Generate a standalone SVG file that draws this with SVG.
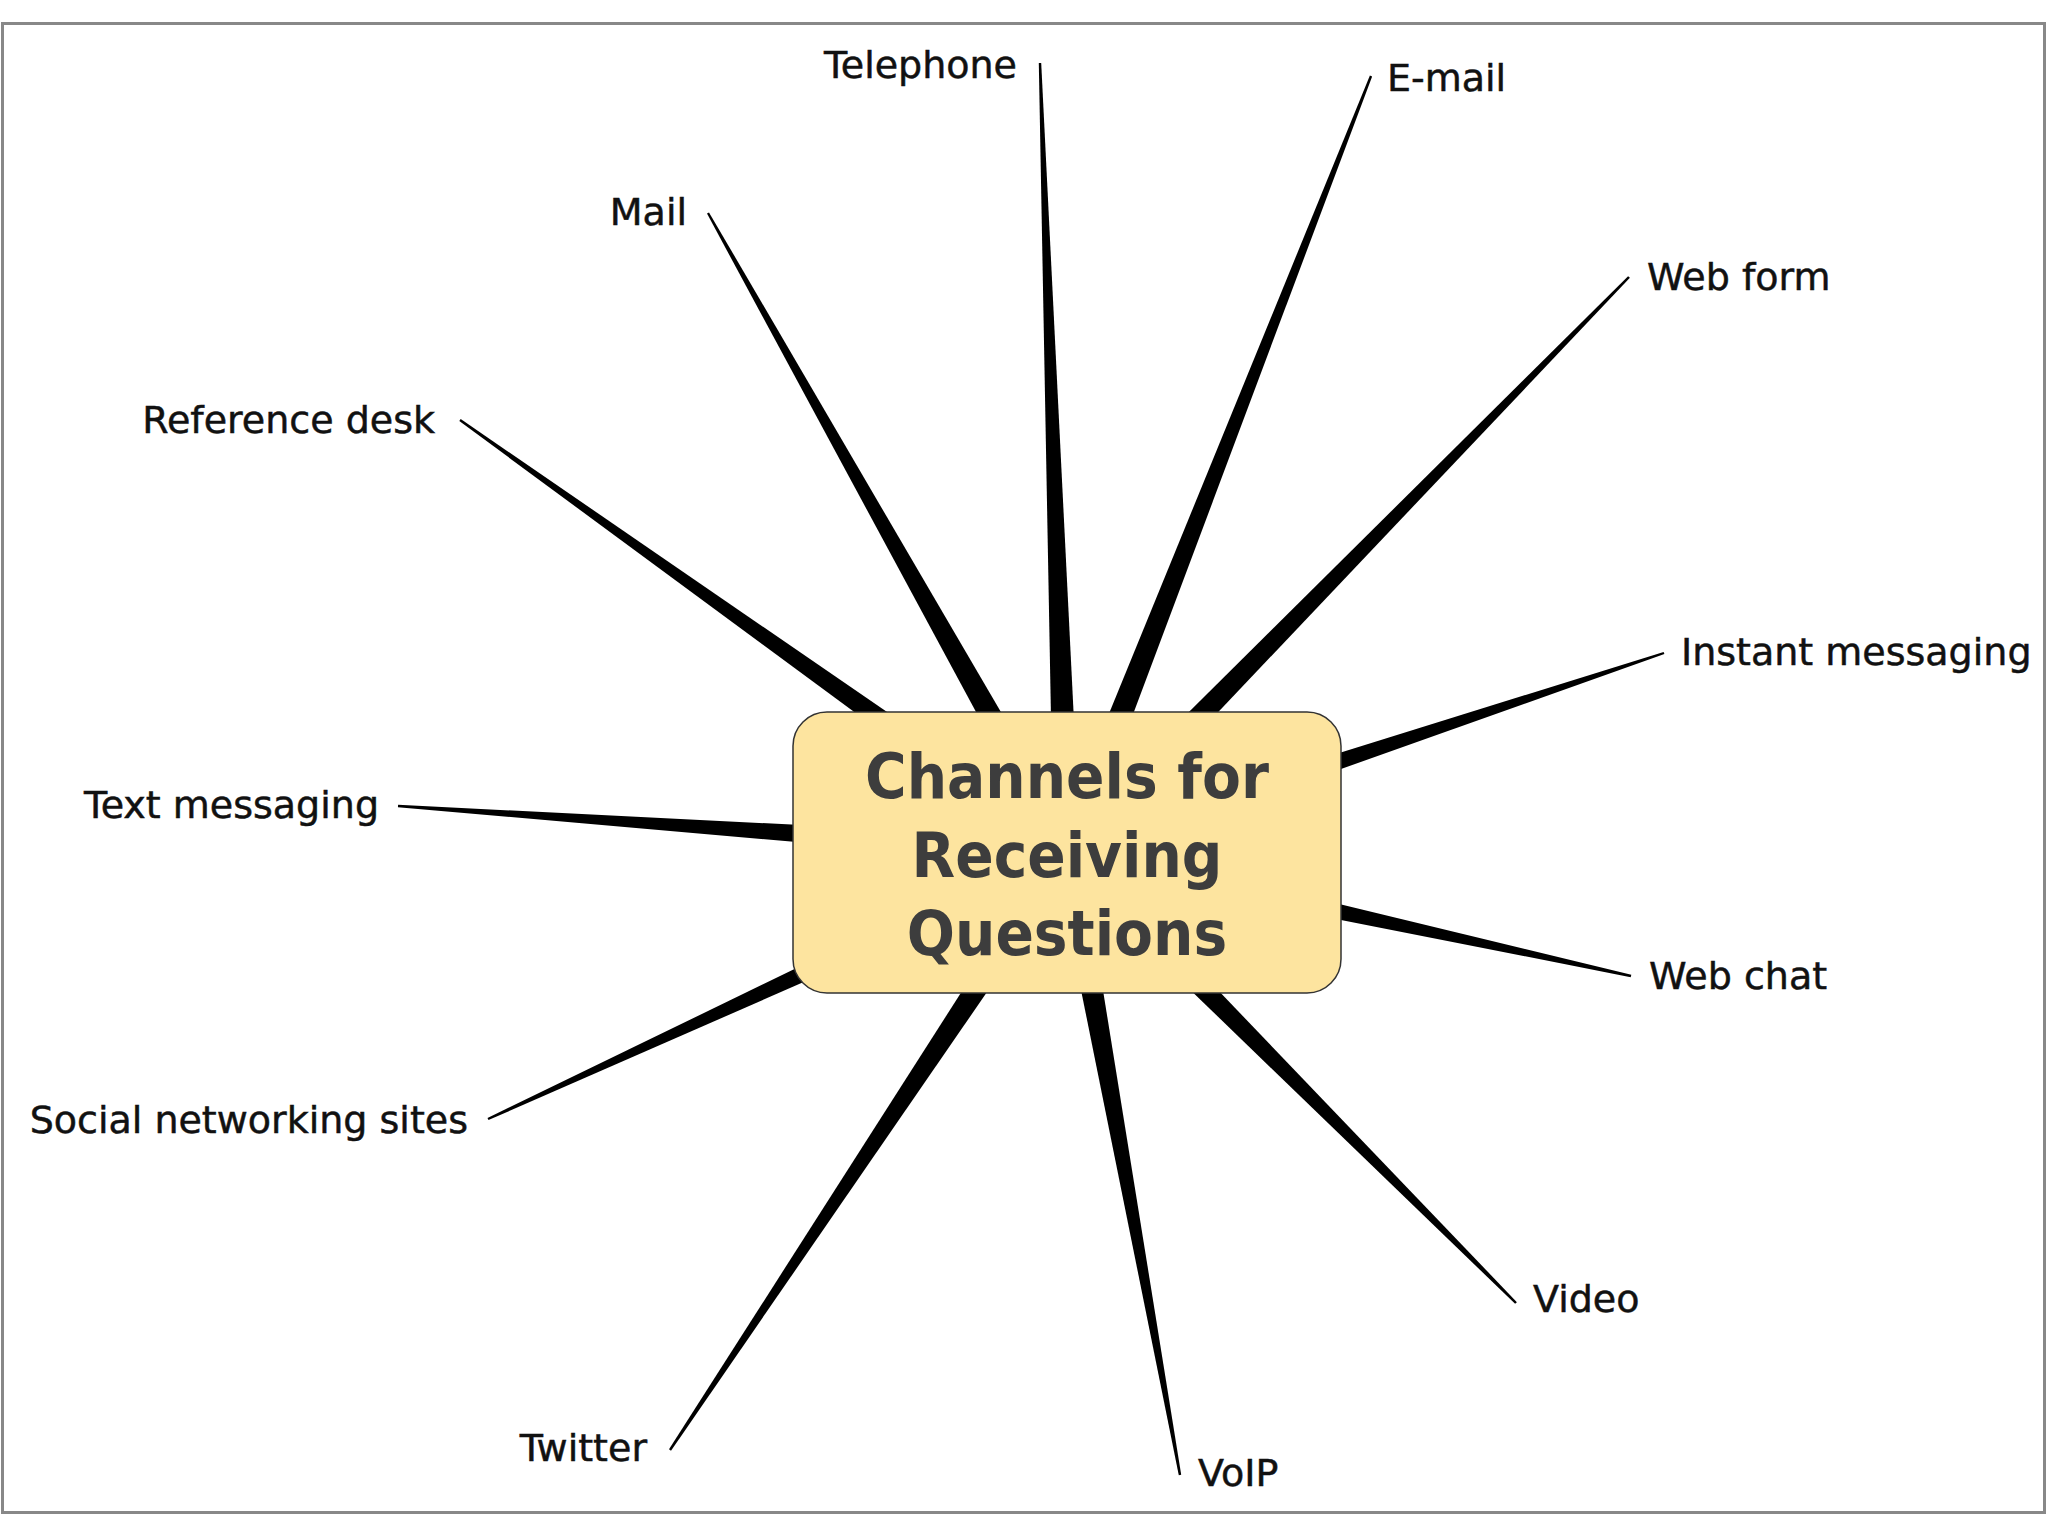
<svg xmlns="http://www.w3.org/2000/svg" width="2048" height="1536" viewBox="0 0 2048 1536">
<style>
.lbl{font-family:"DejaVu Sans","Liberation Sans",sans-serif;font-size:38px;fill:#111;stroke:#111;stroke-width:0.5}
.end{text-anchor:end}
.title{font-family:"DejaVu Sans Condensed","DejaVu Sans",sans-serif;font-stretch:condensed;font-weight:bold;font-size:63px;fill:#3d3d3d;text-anchor:middle}
.wedge{fill:#000}
</style>
<rect x="0" y="0" width="2048" height="1536" fill="#fff"/>
<rect x="2.5" y="23.5" width="2042" height="1489" fill="#fff" stroke="#888" stroke-width="3"/>
<g id="connectors">
<polygon class="wedge" points="1038.8,63 1053.5,852.5 1080.5,851.5 1041.2,63"/>
<polygon class="wedge" points="1369.9,75.6 1054.4,847.1 1079.6,856.9 1372.1,76.4"/>
<polygon class="wedge" points="1628.1,276.2 1057.3,842.6 1076.7,861.4 1629.9,277.8"/>
<polygon class="wedge" points="1663.6,651.9 1062.7,839.2 1071.3,864.8 1664.4,654.1"/>
<polygon class="wedge" points="1631.3,974.8 1069.9,838.8 1064.1,865.2 1630.7,977.2"/>
<polygon class="wedge" points="1516.9,1302.2 1076.6,842.5 1057.4,861.5 1515.1,1303.8"/>
<polygon class="wedge" points="1181.2,1474.8 1080.3,849.6 1053.7,854.4 1178.8,1475.2"/>
<polygon class="wedge" points="671,1450.7 1078.3,859.5 1055.8,844.5 669,1449.3"/>
<polygon class="wedge" points="488.5,1120.1 1072.7,864.3 1061.4,839.7 487.5,1117.9"/>
<polygon class="wedge" points="397.9,807.2 1066.1,865.5 1067.9,838.5 398.1,804.8"/>
<polygon class="wedge" points="459.3,421 1059.2,863 1074.8,841 460.7,419"/>
<polygon class="wedge" points="707,213.6 1055.2,858.6 1078.8,845.4 709,212.4"/>
</g>
<g id="center">
<rect x="793" y="712" width="548" height="281" rx="34" ry="34" fill="#fde49f" stroke="#333" stroke-width="1.5"/>
<text class="title" x="1067" y="798">Channels for</text>
<text class="title" x="1067" y="877">Receiving</text>
<text class="title" x="1067" y="955">Questions</text>
</g>
<g id="telephone"><text class="lbl end" x="1017" y="78">Telephone</text></g>
<g id="email"><text class="lbl" x="1387" y="91">E-mail</text></g>
<g id="webform"><text class="lbl" x="1647" y="290">Web form</text></g>
<g id="instant"><text class="lbl" x="1681" y="665">Instant messaging</text></g>
<g id="webchat"><text class="lbl" x="1649" y="989">Web chat</text></g>
<g id="video"><text class="lbl" x="1533" y="1312">Video</text></g>
<g id="voip"><text class="lbl" x="1198" y="1486">VoIP</text></g>
<g id="twitter"><text class="lbl end" x="647" y="1461">Twitter</text></g>
<g id="social"><text class="lbl end" x="468" y="1133">Social networking sites</text></g>
<g id="textmsg"><text class="lbl end" x="379" y="818">Text messaging</text></g>
<g id="refdesk"><text class="lbl end" x="435" y="433">Reference desk</text></g>
<g id="mail"><text class="lbl end" x="687" y="225">Mail</text></g>
</svg>
